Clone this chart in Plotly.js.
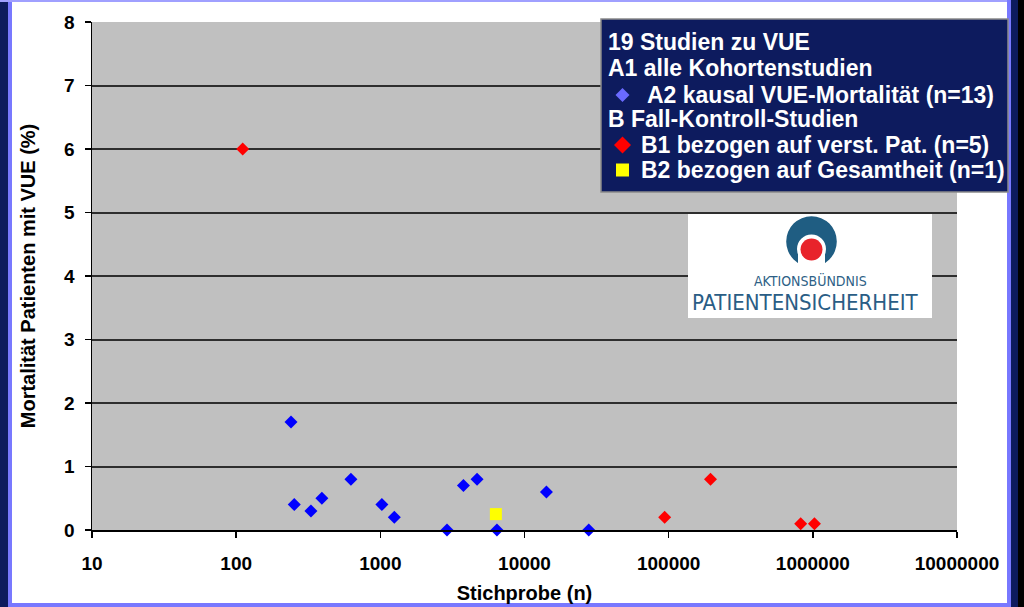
<!DOCTYPE html>
<html>
<head>
<meta charset="utf-8">
<script src="https://cdn.plot.ly/plotly-3.0.1.min.js"></script>
<style>
  html, body { margin: 0; padding: 0; background: #ffffff; }
  #chart { width: 1024px; height: 607px; }
</style>
</head>
<body>
<div id="chart"></div>
<script>
// ---- Data ----
const a2Sample = [240, 253, 330, 393, 625, 1025, 1250, 2900, 3770, 4690, 6440, 14200, 27900];
const a2Mortality = [1.7, 0.4, 0.3, 0.5, 0.8, 0.4, 0.2, 0, 0.7, 0.8, 0, 0.6, 0];
const b1Sample = [111, 93800, 195000, 824000, 1026000];
const b1Mortality = [6, 0.2, 0.8, 0.1, 0.1];
const b2Sample = [6330];
const b2Mortality = [0.25];

const xTickVals = [10, 100, 1000, 10000, 100000, 1000000, 10000000];
const xTickText = ['10', '100', '1000', '10000', '100000', '1000000', '10000000'];
const yTickVals = [0, 1, 2, 3, 4, 5, 6, 7, 8];

const legendLines = [
  '19 Studien zu VUE',
  'A1 alle Kohortenstudien',
  'A2 kausal VUE-Mortalität (n=13)',
  'B Fall-Kontroll-Studien',
  'B1 bezogen auf verst. Pat. (n=5)',
  'B2 bezogen auf Gesamtheit (n=1)'
];
const xTitle = 'Stichprobe (n)';
const yTitle = 'Mortalität Patienten mit VUE (%)';

// ---- Layout helpers (pixel -> paper) ----
const W = 1024, H = 607;
const L = 92, R = 957, T = 22, B = 530;
const px = x => (x - L) / (R - L);
const py = y => (B - y) / (B - T);

const FONT = 'Arial, "Liberation Sans", sans-serif';
const NARROW = '"Liberation Sans Narrow", "DejaVu Sans Condensed", "Arial Narrow", sans-serif';
const NAVY = '#0d1b5e';
const BORDER = '#7878ff';

function rect(x0, y0, x1, y1, fill, line) {
  return { type: 'rect', xref: 'paper', yref: 'paper', layer: 'above',
    x0: px(x0), x1: px(x1), y0: py(y1), y1: py(y0),
    fillcolor: fill, line: line || { width: 0 } };
}
function circ(cx, cy, r, fill) {
  return { type: 'circle', xref: 'paper', yref: 'paper', layer: 'above',
    x0: px(cx - r), x1: px(cx + r), y0: py(cy + r), y1: py(cy - r),
    fillcolor: fill, line: { width: 0 } };
}
function diamond(cx, cy, r, fill) {
  const p = (x, y) => px(x) + ',' + py(y);
  return { type: 'path', xref: 'paper', yref: 'paper', layer: 'above',
    path: 'M' + p(cx, cy - r) + ' L' + p(cx + r, cy) + ' L' + p(cx, cy + r) + ' L' + p(cx - r, cy) + ' Z',
    fillcolor: fill, line: { width: 0 } };
}

const shapes = [
  // outer frame
  rect(0, 0, 8, 607, NAVY),
  rect(8, 0, 12, 607, BORDER),
  rect(0, 0, 1012, 2, '#a0a0ff'),
  rect(1007, 0, 1011, 607, BORDER),
  rect(1011, 0, 1018, 607, NAVY),
  rect(1018, 0, 1024, 607, '#000000'),
  rect(8, 603, 1011, 607, BORDER),
  // legend box
  rect(601, 19, 1008, 192, NAVY, { color: '#8a8a8a', width: 1.5 }),
  diamond(622.5, 95, 7, '#6a6aff'),
  diamond(622.5, 145, 8.5, '#ff0000'),
  rect(616, 163.5, 629, 176.5, '#ffff00'),
  // logo
  rect(688, 214, 932, 318, '#ffffff'),
  circ(811.5, 241.5, 25.3, '#1f5d82'),
  rect(798, 249, 825, 268, '#ffffff'),
  rect(780, 264, 843, 270, '#ffffff'),
  circ(811.5, 249, 14.5, '#ffffff'),
  circ(811.5, 249.5, 11, '#e8232b')
];

const legendY = [42, 68, 95, 119, 145, 170];
const legendX = [606, 606, 645, 606, 639, 639];
const annotations = legendLines.map((t, i) => ({
  xref: 'paper', yref: 'paper', x: px(legendX[i]), y: py(legendY[i]),
  xanchor: 'left', yanchor: 'middle', showarrow: false, text: '<b>' + t + '</b>',
  font: { family: FONT, size: 23, color: '#ffffff' }
}));
annotations.push({
  xref: 'paper', yref: 'paper', x: px(810), y: py(280), xanchor: 'center', yanchor: 'middle',
  showarrow: false, text: 'AKTIONSBÜNDNIS',
  font: { family: NARROW, size: 14, color: '#2e5f86' }
});
annotations.push({
  xref: 'paper', yref: 'paper', x: px(805), y: py(302.5), xanchor: 'center', yanchor: 'middle',
  showarrow: false, text: 'PATIENTENSICHERHEIT',
  font: { family: NARROW, size: 22, color: '#2a5d85' }
});

const traces = [
  { type: 'scatter', mode: 'markers', name: 'A2 kausal VUE-Mortalität (n=13)',
    x: a2Sample, y: a2Mortality, cliponaxis: false,
    marker: { symbol: 'diamond', size: 10, color: '#0000ff', line: { width: 0 } } },
  { type: 'scatter', mode: 'markers', name: 'B1 bezogen auf verst. Pat. (n=5)',
    x: b1Sample, y: b1Mortality, cliponaxis: false,
    marker: { symbol: 'diamond', size: 10, color: '#ff0000', line: { width: 0 } } },
  { type: 'scatter', mode: 'markers', name: 'B2 bezogen auf Gesamtheit (n=1)',
    x: b2Sample, y: b2Mortality, cliponaxis: false,
    marker: { symbol: 'square', size: 12, color: '#ffff00', line: { width: 0 } } }
];

const layout = {
  width: W, height: H,
  margin: { l: L, r: W - R, t: T, b: H - B, pad: 0 },
  paper_bgcolor: '#ffffff',
  plot_bgcolor: '#c0c0c0',
  showlegend: false,
  font: { family: FONT, size: 19, color: '#000000' },
  xaxis: {
    type: 'log', range: [1, 7], autorange: false,
    tickvals: xTickVals, ticktext: xTickText.map(t => '<b>' + t + '</b>'),
    showgrid: false, zeroline: false,
    showline: true, linecolor: '#000000', linewidth: 1.5,
    ticks: 'outside', ticklen: 6, tickwidth: 1.5, tickcolor: '#000000',
    ticklabelstandoff: 10,
    tickfont: { family: FONT, size: 19, color: '#000000' },
    title: { text: '<b>' + xTitle + '</b>', standoff: 12, font: { family: FONT, size: 20, color: '#000000' } },
    automargin: false
  },
  yaxis: {
    range: [0, 8], autorange: false,
    tickvals: yTickVals, ticktext: yTickVals.map(v => '<b>' + v + '</b>'),
    showgrid: true, gridcolor: '#2e2e2e', gridwidth: 2,
    zeroline: false,
    showline: true, linecolor: '#000000', linewidth: 1.5,
    ticks: 'outside', ticklen: 6, tickwidth: 1.5, tickcolor: '#000000',
    ticklabelstandoff: 6,
    tickfont: { family: FONT, size: 19, color: '#000000' },
    title: { text: '<b>' + yTitle + '</b>', standoff: 23, font: { family: FONT, size: 20, color: '#000000' } },
    automargin: false
  },
  shapes: shapes,
  annotations: annotations
};

Plotly.newPlot('chart', traces, layout, { displayModeBar: false, staticPlot: true });
</script>
</body>
</html>
